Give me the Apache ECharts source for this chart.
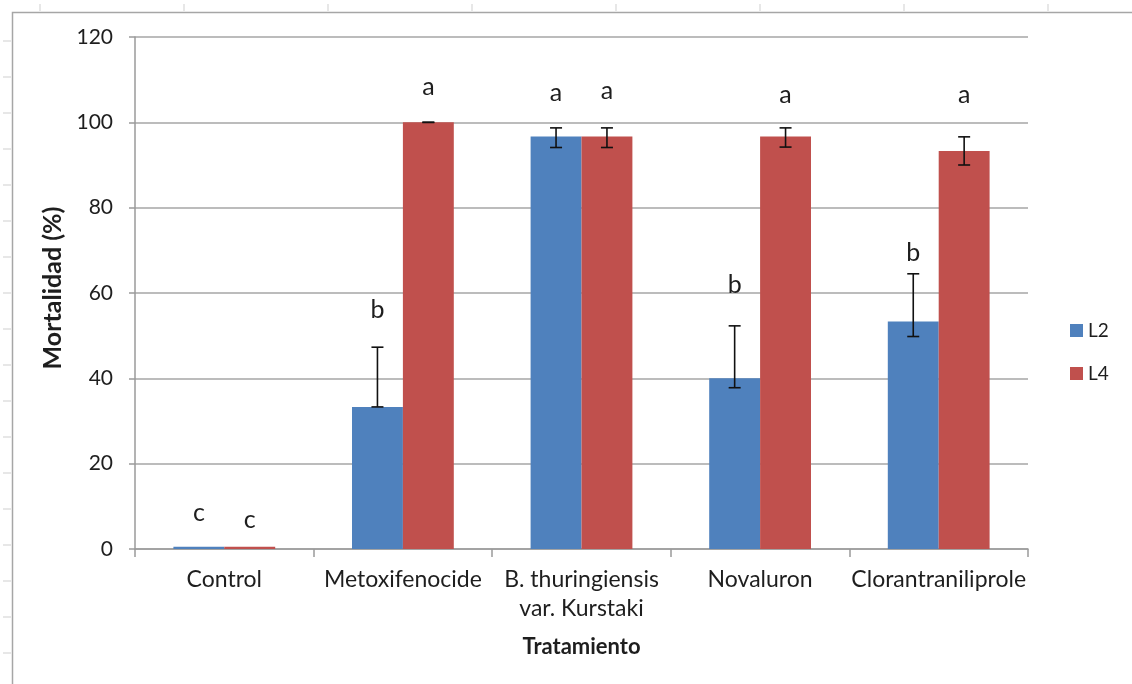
<!DOCTYPE html>
<html>
<head>
<meta charset="utf-8">
<script src="https://cdn.jsdelivr.net/npm/echarts@6/dist/echarts.min.js"></script>
<style>
  html, body { margin: 0; padding: 0; background: #ffffff; }
  #chart { width: 1132px; height: 684px; }
</style>
</head>
<body>
<div id="chart"></div>
<script>
// Mortality (%) by treatment for L2 and L4 larvae
const categories = ['Control', 'Metoxifenocide', 'B. thuringiensis\nvar. Kurstaki', 'Novaluron', 'Clorantraniliprole'];
const seriesNames = ['L2', 'L4'];
const yTicks = { min: 0, max: 120, step: 20 };

const valuesL2 = [0.5, 33.3, 96.7, 40.0, 53.3];
const valuesL4 = [0.5, 100.0, 96.7, 96.7, 93.3];

// error bar ends (lower, upper)
const errLowL2 = [null, 33.3, 94.1, 37.8, 49.8];
const errHighL2 = [null, 47.3, 98.7, 52.3, 64.5];
const errLowL4 = [null, 100.0, 94.1, 94.2, 90.0];
const errHighL4 = [null, 100.0, 98.7, 98.7, 96.6];

// significance letters and the height they sit at (axis units)
const lettersL2 = ['c', 'b', 'a', 'b', 'b'];
const letterYL2 = [8.4, 56.0, 106.8, 61.9, 69.3];
const lettersL4 = ['c', 'a', 'a', 'a', 'a'];
const letterYL4 = [6.8, 108.3, 107.3, 106.4, 106.4];

const colors = ['#4F81BD', '#C0504D'];
const FONT = 'Lato, "Open Sans", sans-serif';
const TEXT = '#1e1e1e';
const GAP = 0.43;            // category gap fraction
const BAR_FRAC = (1 - GAP) / 2;

function barOffset(api, sIdx) {
  const w = api.size([1, 0])[0];
  const bw = w * BAR_FRAC;
  return { bw: bw, dx: (sIdx === 0 ? -bw / 2 : bw / 2) };
}

const errData = [];
[[errLowL2, errHighL2], [errLowL4, errHighL4]].forEach(function (pair, s) {
  pair[0].forEach(function (lo, i) {
    if (lo !== null) errData.push([i, lo, pair[1][i], s]);
  });
});

const letterData = [];
[[lettersL2, letterYL2], [lettersL4, letterYL4]].forEach(function (pair, s) {
  pair[0].forEach(function (t, i) { letterData.push([i, pair[1][i], s, t]); });
});

// page-ruler marks along the frame
const graphics = [
  { type: 'rect', shape: { x: 12.5, y: 12.5, width: 1140, height: 700 },
    style: { fill: 'none', stroke: '#a6a6a6', lineWidth: 1.5 }, z: -1 }
];
for (let x = 40; x < 1132; x += 144) {
  graphics.push({ type: 'line', shape: { x1: x, y1: 4, x2: x, y2: 11 }, style: { stroke: '#cfcfcf', lineWidth: 1 } });
}
for (let y = 41; y < 684; y += 36) {
  graphics.push({ type: 'line', shape: { x1: 3, y1: y, x2: 11, y2: y }, style: { stroke: '#cfcfcf', lineWidth: 1 } });
}

const chart = echarts.init(document.getElementById('chart'));
chart.setOption({
  animation: false,
  backgroundColor: '#ffffff',
  textStyle: { fontFamily: FONT },
  graphic: graphics,
  grid: { left: 135, right: 104, top: 37, bottom: 135, containLabel: false },
  legend: {
    data: seriesNames,
    orient: 'vertical',
    left: 1065,
    top: 316,
    itemWidth: 13,
    itemHeight: 13,
    itemGap: 24,
    icon: 'rect',
    textStyle: { fontSize: 19, color: TEXT, fontFamily: FONT, padding: [0, 0, 0, 0] }
  },
  xAxis: {
    type: 'category',
    data: categories,
    name: 'Tratamiento',
    nameLocation: 'middle',
    nameGap: 87,
    nameTextStyle: { fontSize: 22, fontWeight: 'bold', color: TEXT, fontFamily: FONT },
    axisLine: { lineStyle: { color: '#9a9a9a', width: 1.5 } },
    axisTick: { show: true, length: 8, lineStyle: { color: '#9a9a9a', width: 1.5 } },
    axisLabel: { interval: 0, fontSize: 23, lineHeight: 29, margin: 16, color: TEXT, fontFamily: FONT }
  },
  yAxis: {
    type: 'value',
    min: yTicks.min,
    max: yTicks.max,
    interval: yTicks.step,
    name: 'Mortalidad (%)',
    nameLocation: 'middle',
    nameGap: 46,
    nameTextStyle: { fontSize: 25, fontWeight: 'bold', color: TEXT, fontFamily: FONT, padding: [0, 0, 0, 10] },
    axisLine: { show: true, lineStyle: { color: '#9a9a9a', width: 1.5 } },
    axisTick: { show: true, length: 6, lineStyle: { color: '#9a9a9a', width: 1.5 } },
    splitLine: { lineStyle: { color: '#a6a6a6', width: 1.5 } },
    axisLabel: { fontSize: 21, margin: 22, color: TEXT, fontFamily: FONT }
  },
  series: [
    { name: 'L2', type: 'bar', data: valuesL2, barGap: '0%', barCategoryGap: (GAP * 100) + '%',
      itemStyle: { color: colors[0] } },
    { name: 'L4', type: 'bar', data: valuesL4, barGap: '0%', barCategoryGap: (GAP * 100) + '%',
      itemStyle: { color: colors[1] } },
    {
      name: 'errors', type: 'custom', z: 5,
      data: errData,
      encode: { x: 0, y: [1, 2] },
      renderItem: function (params, api) {
        const o = barOffset(api, api.value(3));
        const lo = api.coord([api.value(0), api.value(1)]);
        const hi = api.coord([api.value(0), api.value(2)]);
        const x = lo[0] + o.dx;
        const cap = 6;
        const st = { stroke: '#111111', lineWidth: 1.6 };
        return {
          type: 'group',
          children: [
            { type: 'line', shape: { x1: x, y1: lo[1], x2: x, y2: hi[1] }, style: st },
            { type: 'line', shape: { x1: x - cap, y1: lo[1], x2: x + cap, y2: lo[1] }, style: st },
            { type: 'line', shape: { x1: x - cap, y1: hi[1], x2: x + cap, y2: hi[1] }, style: st }
          ]
        };
      }
    },
    {
      name: 'letters', type: 'custom', z: 6,
      data: letterData,
      encode: { x: 0, y: 1 },
      renderItem: function (params, api) {
        const o = barOffset(api, api.value(2));
        const p = api.coord([api.value(0), api.value(1)]);
        return {
          type: 'text',
          x: p[0] + o.dx,
          y: p[1],
          style: {
            text: letterData[params.dataIndex][3],
            fontSize: 25,
            fontFamily: FONT,
            fill: TEXT,
            align: 'center',
            verticalAlign: 'middle'
          }
        };
      }
    }
  ]
});
</script>
</body>
</html>
